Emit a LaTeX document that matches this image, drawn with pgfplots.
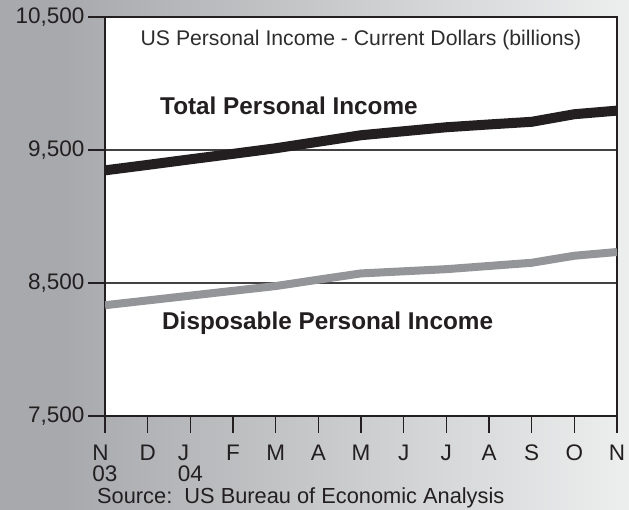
\documentclass[border=0pt]{standalone}
\usepackage{pgfplots}
\pgfplotsset{compat=1.18}
\usepackage{fontspec}
\setmainfont{Liberation Sans}
\definecolor{ink}{RGB}{35,31,32}
\definecolor{txt}{RGB}{45,45,45}
\definecolor{grayline}{RGB}{147,149,153}
\definecolor{bgL}{RGB}{167,169,172}
\definecolor{bgR}{RGB}{237,238,238}

\begin{document}
\begin{tikzpicture}[x=1pt,y=1pt]
% backdrop
\fill[bgL] (0,0) rectangle (63,510);
\shade[left color=bgL, right color=bgR] (63,0) rectangle (629,510);
\useasboundingbox (0,0) rectangle (629,510);
\begin{axis}[
  at={(105pt,94pt)}, anchor=south west,
  scale only axis, width=512pt, height=399pt,
  xmin=0, xmax=12, ymin=7500, ymax=10500,
  xtick={0,...,12},
  xticklabels={N\\03,D,J\\04,F,M,A,M,J,J,A,S,O,N},
  ytick={7500,8500,9500,10500},
  yticklabels={{7,500},{8,500},{9,500},{10,500}},
  scaled y ticks=false,
  tick pos=left, tick align=outside,
  major tick length=17pt,
  every tick/.style={ink, line width=1.3pt},
  ymajorgrids, grid style={ink!85, line width=1.2pt},
  axis line style={ink, line width=2.4pt},
  axis background/.style={fill=white},
  ticklabel style={font=\fontsize{22.5}{20.5}\selectfont, text=ink},
  xticklabel style={align=left, yshift=-8.5pt},
]
% Total personal income
\addplot[ink, line width=10pt, line join=round] coordinates {
  (0,9347)(1,9388)(2,9430)(3,9471)(4,9513)(5,9562)(6,9611)
  (7,9641)(8,9671)(9,9692)(10,9712)(11,9769)(12,9796)};
% Disposable personal income
\addplot[grayline, line width=8pt, line join=round] coordinates {
  (0,8333)(1,8369)(2,8405)(3,8441)(4,8477)(5,8525)(6,8572)
  (7,8588)(8,8604)(9,8628)(10,8652)(11,8705)(12,8733)};
\end{axis}
\node[anchor=base, inner sep=0, font=\fontsize{21.2}{24}\selectfont, text=txt]
  at (361,464) {US Personal Income - Current Dollars (billions)};
\node[anchor=base west, inner sep=0, font=\bfseries\fontsize{24.3}{28}\selectfont, text=ink]
  at (160,395) {Total Personal Income};
\node[anchor=base west, inner sep=0, font=\bfseries\fontsize{24.3}{28}\selectfont, text=ink]
  at (162,180) {Disposable Personal Income};
\node[anchor=base west, inner sep=0, font=\fontsize{21.8}{24}\selectfont, text=ink]
  at (97,6) {Source:\ \ US Bureau of Economic Analysis};
\end{tikzpicture}
\end{document}
